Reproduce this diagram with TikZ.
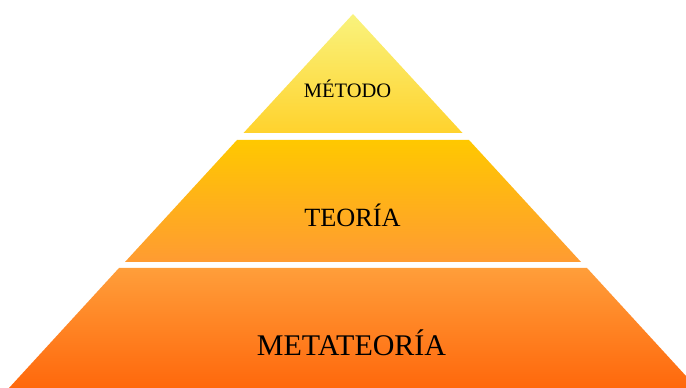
\documentclass[tikz,border=0pt]{standalone}
\usepackage{fontspec}
\setmainfont{Liberation Serif}
\definecolor{ytop}{RGB}{249,243,125}
\definecolor{ybot}{RGB}{255,210,45}
\definecolor{mtop}{RGB}{255,200,0}
\definecolor{mbot}{RGB}{255,155,50}
\definecolor{btop}{RGB}{255,158,58}
\definecolor{bbot}{RGB}{255,104,12}
\begin{document}
\begin{tikzpicture}[x=1pt,y=1pt,
  lbl/.style={inner sep=0pt,text=black,anchor=center}]
\useasboundingbox (0,0) rectangle (686,388);
\clip (0,0) rectangle (686,388);
% top layer
\shade[top color=ytop,bottom color=ybot] (353,374) -- (462.5,255) -- (243.5,255) -- cycle;
% middle layer
\shade[top color=mtop,bottom color=mbot] (237,248) -- (469,248) -- (581,126) -- (125,126) -- cycle;
% bottom layer
\shade[top color=btop,bottom color=bbot] (119,120) -- (587,120) -- (697,0) -- (9,0) -- cycle;
\node[lbl,font=\fontsize{20.5}{24}\selectfont] (metodo) at (347.5,299) {MÉTODO};
\node[lbl,font=\fontsize{26.3}{31}\selectfont] (teoria) at (352.5,173) {TEORÍA};
\node[lbl,font=\fontsize{30}{35}\selectfont] (meta) at (351.5,45) {METATEORÍA};
\end{tikzpicture}
\end{document}
